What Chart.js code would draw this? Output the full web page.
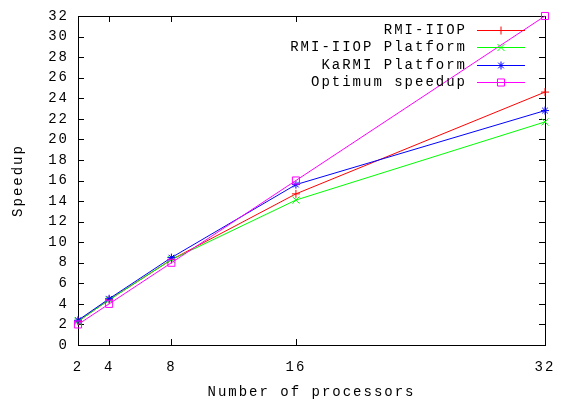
<!DOCTYPE html>
<html>
<head>
<meta charset="utf-8">
<script src="https://cdn.jsdelivr.net/npm/chart.js@4.4.1/dist/chart.umd.min.js"></script>
<style>
  body { margin: 0; background: #fff; }
  #wrap { width: 561px; height: 404px; }
</style>
</head>
<body>
<div id="wrap"><canvas id="chart"></canvas></div>
<script>
const processors = [2, 4, 8, 16, 32];
const rmiIiop = [2.3, 4.4, 8.3, 14.7, 24.6];
const rmiIiopPlatform = [2.3, 4.4, 8.3, 14.1, 21.7];
const karmiPlatform = [2.4, 4.5, 8.5, 15.6, 22.8];
const optimum = [2, 4, 8, 16, 32];
const xTicks = [2, 4, 8, 16, 32];

const FONT = { family: "'Liberation Mono', 'DejaVu Sans Mono', monospace", size: 14 };

const toPoints = (vals) => vals.map((v, i) => ({ x: processors[i], y: v }));

const spacing = (chart) => { chart.ctx.letterSpacing = '2px'; };

// gnuplot style frame with inward ticks on all four sides
const frame = {
  id: 'frame',
  beforeUpdate: spacing,
  beforeLayout: spacing,
  beforeDraw: spacing,
  beforeDatasetsDraw(chart) {
    const { ctx, chartArea: { left, right, top, bottom }, scales: { x, y } } = chart;
    const t = 6;
    ctx.save();
    ctx.strokeStyle = '#000';
    ctx.lineWidth = 1;
    ctx.beginPath();
    y.ticks.forEach(tk => {
      const py = Math.round(y.getPixelForValue(tk.value)) + 0.5;
      ctx.moveTo(left, py); ctx.lineTo(left + t, py);
      ctx.moveTo(right, py); ctx.lineTo(right - t, py);
    });
    x.ticks.forEach(tk => {
      const px = Math.round(x.getPixelForValue(tk.value)) + 0.5;
      ctx.moveTo(px, bottom); ctx.lineTo(px, bottom - t);
      ctx.moveTo(px, top); ctx.lineTo(px, top + t);
    });
    ctx.stroke();
    ctx.strokeRect(Math.round(left) + 0.5, Math.round(top) + 0.5, Math.round(right - left), Math.round(bottom - top));
    ctx.restore();
  },
  afterDraw(chart) {
    const { ctx } = chart;
    ctx.save();
    ctx.letterSpacing = '2px';
    ctx.font = `${FONT.size}px ${FONT.family}`;
    ctx.textAlign = 'right';
    ctx.textBaseline = 'middle';
    chart.data.datasets.forEach((ds, i) => {
      const yy = Math.round(30 + i * 17.3) + 0.5;
      ctx.fillStyle = '#000';
      ctx.fillText(ds.label, 467, yy);
      ctx.strokeStyle = ds.borderColor;
      ctx.lineWidth = 1;
      ctx.beginPath();
      ctx.moveTo(477, yy);
      ctx.lineTo(525, yy);
      ctx.stroke();
      ctx.fillStyle = 'rgba(0,0,0,0)';
      Chart.helpers.drawPoint(ctx, {
        pointStyle: ds.pointStyle, rotation: 0, radius: ds.pointRadius, borderWidth: 1
      }, 501, yy);
    });
    ctx.restore();
  }
};

const series = (label, data, color, style, radius, order) => ({
  label,
  data: toPoints(data),
  borderColor: color,
  backgroundColor: color,
  borderWidth: 1,
  pointStyle: style,
  pointRadius: radius,
  pointBorderWidth: 1,
  pointBorderColor: color,
  pointBackgroundColor: 'rgba(0,0,0,0)',
  pointHoverRadius: radius,
  tension: 0,
  order,
  clip: 8
});

new Chart(document.getElementById('chart'), {
  type: 'line',
  data: {
    datasets: [
      series('RMI-IIOP', rmiIiop, '#ff0000', 'cross', 4, 4),
      series('RMI-IIOP Platform', rmiIiopPlatform, '#00ff00', 'crossRot', 5, 3),
      series('KaRMI Platform', karmiPlatform, '#0000ff', 'star', 4, 2),
      series('Optimum speedup', optimum, '#ff00ff', 'rect', 5, 1)
    ]
  },
  options: {
    responsive: true,
    maintainAspectRatio: false,
    animation: false,
    events: [],
    layout: { padding: { top: 16, right: 16, left: 0, bottom: 0 } },
    plugins: { legend: { display: false }, tooltip: { enabled: false } },
    scales: {
      x: {
        type: 'linear',
        min: 2,
        max: 32,
        afterBuildTicks: (axis) => { axis.ticks = xTicks.map(v => ({ value: v })); },
        afterFit: (axis) => { axis.height = 59; axis.paddingLeft = 0; axis.paddingRight = 0; },
        grid: { display: false, drawTicks: false },
        border: { display: false },
        ticks: { font: FONT, color: '#000', padding: 14, maxRotation: 0, autoSkip: false },
        title: { display: true, text: 'Number of processors', font: FONT, color: '#000', padding: { top: 0, bottom: 3 } }
      },
      y: {
        min: 0,
        max: 32,
        afterFit: (axis) => { axis.width = 78; axis.paddingTop = 0; axis.paddingBottom = 0; },
        grid: { display: false, drawTicks: false },
        border: { display: false },
        ticks: { stepSize: 2, font: FONT, color: '#000', padding: 9, autoSkip: false },
        title: { display: true, text: 'Speedup', font: FONT, color: '#000', padding: { top: 10, bottom: 0 } }
      }
    }
  },
  plugins: [frame]
});
</script>
</body>
</html>
